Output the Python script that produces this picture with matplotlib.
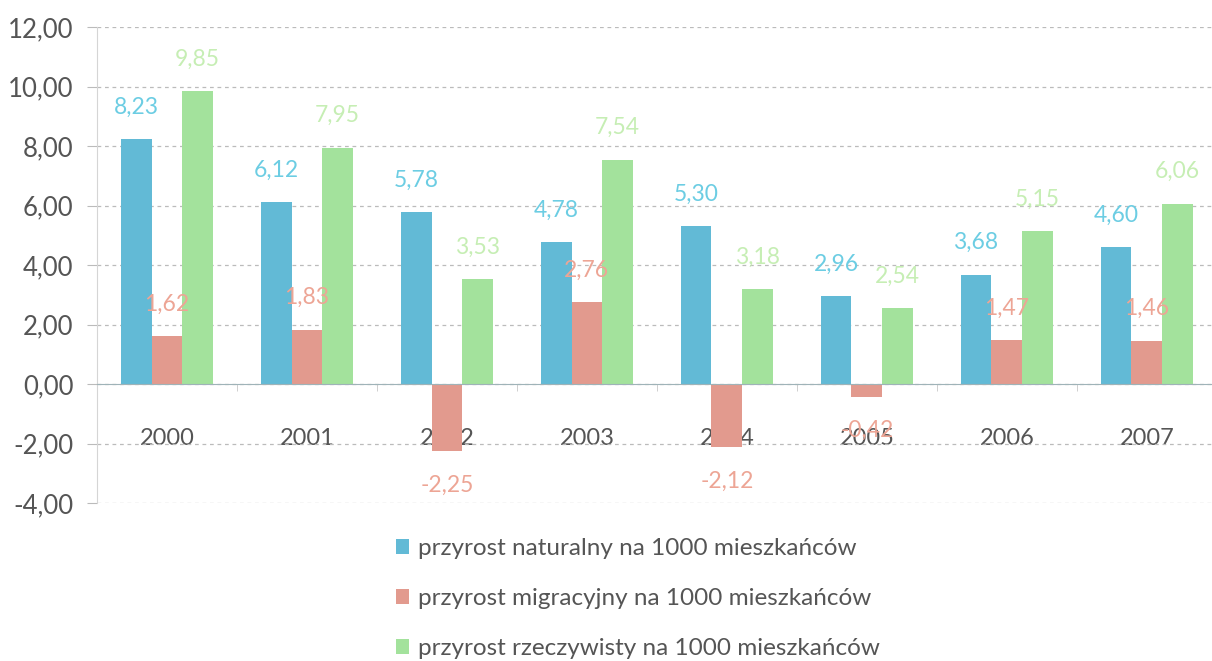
import matplotlib.pyplot as plt
import numpy as np
from matplotlib.patches import Patch

plt.rcParams['font.family'] = ['Lato', 'DejaVu Sans']

# dane
years = ['2000', '2001', '2002', '2003', '2004', '2005', '2006', '2007']
naturalny = [8.23, 6.12, 5.78, 4.78, 5.30, 2.96, 3.68, 4.60]
migracyjny = [1.62, 1.83, -2.25, 2.76, -2.12, -0.42, 1.47, 1.46]
rzeczywisty = [9.85, 7.95, 3.53, 7.54, 3.18, 2.54, 5.15, 6.06]
series_names = ['przyrost naturalny na 1000 mieszkańców',
                'przyrost migracyjny na 1000 mieszkańców',
                'przyrost rzeczywisty na 1000 mieszkańców']

bar_colors = ['#62BAD6', '#E29A8E', '#A3E29C']
label_colors = ['#6CCDE3', '#EDA595', '#C6EEB4']

fig = plt.figure(figsize=(12.12, 6.61), dpi=100)
ax = fig.add_axes([0.080, 0.239, 0.924, 0.720])

x = np.arange(len(years))
w = 0.22
for i, vals in enumerate([naturalny, migracyjny, rzeczywisty]):
    pos = x + (i - 1) * w
    ax.bar(pos, vals, width=w, color=bar_colors[i], zorder=3)
    for p, v in zip(pos, vals):
        off = 32 if v >= 0 else -34
        ax.annotate(f'{v:.2f}'.replace('.', ','), (p, v), xytext=(0, off),
                    textcoords='offset pixels', ha='center', va='center',
                    fontsize=16.5, color=label_colors[i], zorder=4)

ax.set_xlim(-0.5, 7.5)
ax.set_ylim(-4, 12)
ax.set_yticks(np.arange(-4, 13, 2))
ax.set_yticklabels([f'{t:.2f}'.replace('.', ',') for t in np.arange(-4, 13, 2)],
                   fontsize=18.5, color='#555555')
ax.tick_params(axis='y', length=7, color='#BBBBBB', pad=10)

ax.grid(axis='y', color='#BBBBBB', linestyle=(0, (3, 3)), linewidth=0.9, zorder=0)

for s in ['top', 'right']:
    ax.spines[s].set_visible(False)
ax.spines['left'].set_color('#D5D5D5')
ax.spines['bottom'].set_position(('data', 0))
ax.spines['bottom'].set_color('#9FB3B8')
ax.spines['bottom'].set_zorder(5)

ax.set_xticks(x)
ax.set_xticklabels(years, fontsize=17, color='#555555')
ax.set_xticks(np.arange(-0.5, 8, 1), minor=True)
ax.tick_params(axis='x', which='major', length=0, pad=32)
ax.tick_params(axis='x', which='minor', length=5, color='#C8C8C8')

handles = [Patch(facecolor=c, edgecolor='none') for c in bar_colors]
fig.legend(handles, series_names, loc='upper left',
           bbox_to_anchor=(374 / 1212, 1 - 516 / 661), frameon=False,
           fontsize=17.5, labelcolor='#555555', handlelength=0.55,
           handleheight=0.55, handletextpad=0.35, labelspacing=1.2)

fig.savefig('out.png', dpi=100)
